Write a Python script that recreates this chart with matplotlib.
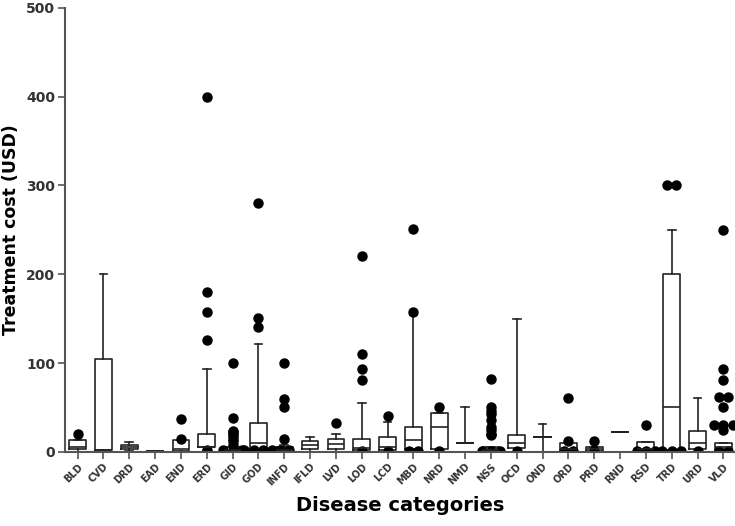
import numpy as np
import matplotlib
matplotlib.use("Agg")
from matplotlib import pyplot as plt

# disease categories and box statistics (USD)
cats = ['BLD', 'CVD', 'DRD', 'EAD', 'END', 'ERD', 'GID', 'GOD', 'INFD', 'IFLD',
        'LVD', 'LOD', 'LCD', 'MBD', 'NRD', 'NMD', 'NSS', 'OCD', 'OND', 'ORD',
        'PRD', 'RND', 'RSD', 'TRD', 'URD', 'VLD']
q1  = [3, 2, 3, 1, 1, 5, 0, 2, 0, 3, 3, 2, 2, 3, 3, 10, 0, 4, 17, 1, 1, 22, 0, 2, 3, 2]
med = [5, 2, 5, 1, 3, 6, 2, 10, 2, 8, 9, 4, 6, 13, 28, 10, 2, 10, 17, 3, 3, 22, 3, 50, 10, 5]
q3  = [13, 105, 8, 1, 13, 20, 5, 32, 5, 12, 14, 15, 17, 28, 44, 10, 6, 19, 17, 10, 6, 22, 11, 200, 23, 10]
wlo = [0, 0, 1, 1, 0, 2, 0, 0, 0, 0, 0, 0, 0, 0, 0, 10, 0, 0, 0, 0, 0, 22, 0, 0, 0, 0]
whi = [13, 200, 11, 1, 13, 93, 5, 121, 8, 17, 20, 55, 34, 154, 44, 50, 6, 150, 31, 10, 6, 22, 11, 250, 61, 10]
fliers = [
    [20],
    [],
    [],
    [],
    [37, 15],
    [400, 180, 157, 126, 2],
    [100, 38, 24, 22, 20, 18, 15, 12, 8, 2, 2, 2],
    [280, 151, 141, 2, 2, 2, 2],
    [100, 60, 50, 15, 2, 2],
    [],
    [32],
    [220, 110, 93, 81, 1],
    [40, 1],
    [251, 157, 1, 1],
    [50, 1],
    [],
    [82, 50, 46, 43, 36, 28, 25, 20, 19, 1, 1, 1],
    [1],
    [],
    [61, 12, 1, 1],
    [12, 1],
    [],
    [30, 1, 1, 1],
    [300, 300, 1, 1, 1],
    [1],
    [250, 93, 81, 62, 62, 50, 30, 30, 30, 25, 1, 1],
]

stats = []
for i in range(len(cats)):
    stats.append(dict(label=cats[i], q1=q1[i], med=med[i], q3=q3[i],
                      whislo=wlo[i], whishi=whi[i], fliers=[]))

fig = plt.figure(figsize=(7.35, 5.26), dpi=100)
ax = fig.add_axes([0.088, 0.141, 0.912, 0.844])

lc = '#222222'
pos = np.arange(1, len(cats) + 1)
ax.bxp(stats, positions=pos, widths=0.65, showfliers=False,
       boxprops=dict(color=lc, lw=1.2),
       medianprops=dict(color=lc, lw=1.2),
       whiskerprops=dict(color=lc, lw=1.2),
       capprops=dict(color=lc, lw=1.2),
       capwidths=0.3)

# outliers, spread sideways when values coincide
for i, fl in enumerate(fliers):
    vals = np.array(fl, dtype=float)
    for v in np.unique(vals):
        n = int((vals == v).sum())
        offs = (np.arange(n) - (n - 1) / 2) * 0.36
        ax.plot(pos[i] + offs, [v] * n, 'o', color='black', ms=6.5, mec='black')

ax.set_xlim(0.5, 26.45)
ax.set_ylim(0, 500)
ax.set_yticks([0, 100, 200, 300, 400, 500])
ax.set_xticks(pos)
ax.set_xticklabels(cats, rotation=45, ha='right', rotation_mode='anchor',
                   fontsize=7, fontweight='bold', color='#333333')
for t in ax.get_yticklabels():
    t.set_fontweight('bold')
    t.set_fontsize(10)
    t.set_color('#333333')

for s in ['top', 'right']:
    ax.spines[s].set_visible(False)
for s in ['left', 'bottom']:
    ax.spines[s].set_color('#555555')
    ax.spines[s].set_linewidth(1.5)
ax.tick_params(axis='both', color='#555555', width=1.2, length=5, pad=2)

ax.set_ylabel('Treatment cost (USD)', fontsize=12.5, fontweight='bold', labelpad=4)
ax.set_xlabel('Disease categories', fontsize=14, fontweight='bold', labelpad=6)

fig.savefig('out.png', dpi=100)
